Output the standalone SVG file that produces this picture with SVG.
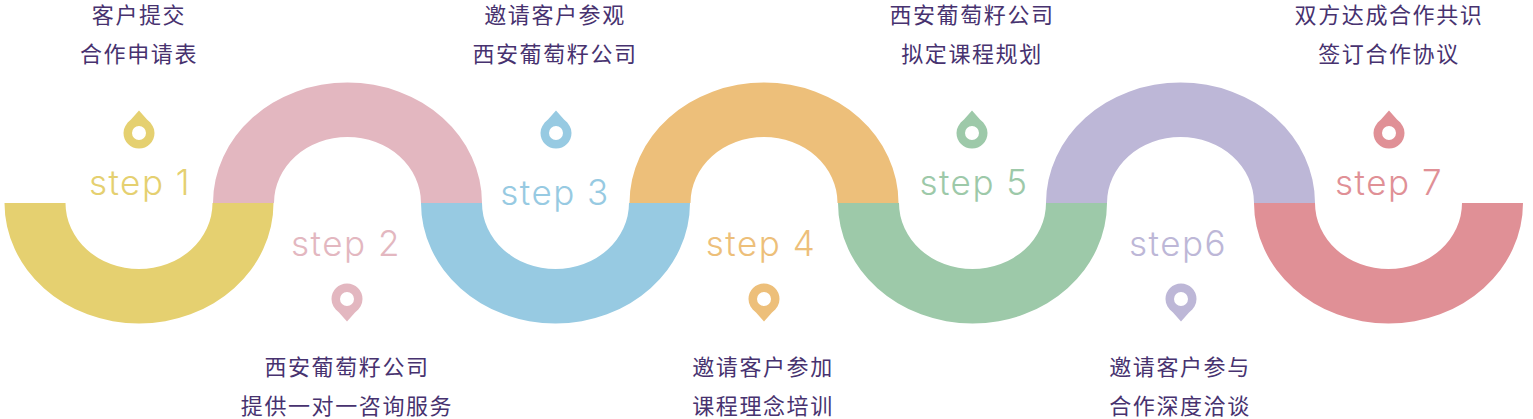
<svg xmlns="http://www.w3.org/2000/svg" xmlns:xlink="http://www.w3.org/1999/xlink" width="1533" height="419" viewBox="0 0 1533 419">
<style>
.t{font-family:"Noto Sans CJK SC","Liberation Sans",sans-serif;font-size:22px;letter-spacing:1.6px;fill:#47326f;text-anchor:middle}
.s{font-family:"Inter","Noto Sans",sans-serif;font-weight:300;font-size:35px;letter-spacing:1.5px;text-anchor:middle}
</style>
<defs>
<path id="d" d="M-134.500 0A134.500 120.500 0 0 0 134.500 0H73.500A73.500 66 0 0 1 -73.500 0Z"/>
<path id="u" d="M-134.500 0A134.500 120.500 0 0 1 134.500 0H73.500A73.500 66 0 0 0 -73.500 0Z"/>
<path id="pu" fill-rule="evenodd" d="M0 -22.500L8 -13.500C13 -9.500 15.500 -5 15.500 0A15.500 15.500 0 0 1 -15.500 0C-15.500 -5 -13 -9.500 -8 -13.500ZM7 0A7 7 0 1 0 -7 0A7 7 0 1 0 7 0Z"/>
<path id="pd" fill-rule="evenodd" d="M0 22.500L-8 13.500C-13 9.500 -15.500 5 -15.500 0A15.500 15.500 0 0 1 15.500 0C15.500 5 13 9.500 8 13.500ZM7 0A7 7 0 1 0 -7 0A7 7 0 1 0 7 0Z"/>
</defs>
<g id="connectors">
<use href="#d" x="139" y="203" fill="#e5d070"/>
<use href="#u" x="347.500" y="203" fill="#e3b7c0"/>
<use href="#d" x="555.500" y="203" fill="#97cae2"/>
<use href="#u" x="764" y="203" fill="#edbf7a"/>
<use href="#d" x="972.500" y="203" fill="#9dc9a9"/>
<use href="#u" x="1180.500" y="203" fill="#bdb7d7"/>
<use href="#d" x="1388.500" y="203" fill="#e09096"/>
</g>
<g id="step1"><text class="t" x="139" y="23">客户提交</text><text class="t" x="139" y="62">合作申请表</text><use href="#pu" x="139" y="133" fill="#e5d070"/><text class="s" x="140" y="195" fill="#e5d070">step 1</text></g>
<g id="step2"><text class="t" x="347" y="375">西安葡萄籽公司</text><text class="t" x="347" y="414">提供一对一咨询服务</text><use href="#pd" x="347" y="299" fill="#e3b7c0"/><text class="s" x="346" y="256" fill="#e3b7c0">step 2</text></g>
<g id="step3"><text class="t" x="555" y="23">邀请客户参观</text><text class="t" x="555" y="62">西安葡萄籽公司</text><use href="#pu" x="556" y="133" fill="#97cae2"/><text class="s" x="555" y="205" fill="#97cae2">step 3</text></g>
<g id="step4"><text class="t" x="763" y="375">邀请客户参加</text><text class="t" x="763" y="414">课程理念培训</text><use href="#pd" x="764" y="299" fill="#edbf7a"/><text class="s" x="761" y="256" fill="#edbf7a">step 4</text></g>
<g id="step5"><text class="t" x="972" y="23">西安葡萄籽公司</text><text class="t" x="972" y="62">拟定课程规划</text><use href="#pu" x="972" y="133" fill="#9dc9a9"/><text class="s" x="974" y="195" fill="#9dc9a9">step 5</text></g>
<g id="step6"><text class="t" x="1180" y="375">邀请客户参与</text><text class="t" x="1180" y="414">合作深度洽谈</text><use href="#pd" x="1181" y="299" fill="#bdb7d7"/><text class="s" x="1178" y="256" fill="#bdb7d7">step6</text></g>
<g id="step7"><text class="t" x="1389" y="23">双方达成合作共识</text><text class="t" x="1389" y="62">签订合作协议</text><use href="#pu" x="1389" y="133" fill="#e09096"/><text class="s" x="1389" y="195" fill="#e09096">step 7</text></g>
</svg>
